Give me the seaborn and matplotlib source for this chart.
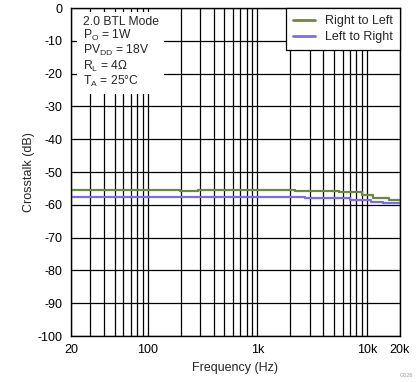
import matplotlib
matplotlib.use("Agg")
import matplotlib.pyplot as plt
import seaborn as sns
import pandas as pd
from matplotlib.ticker import FixedLocator, LogLocator, NullFormatter

# --------------------------------------------------------
# Data
# --------------------------------------------------------

freq_r2l = [20, 197, 288, 2200, 5600, 9000, 11300, 16000, 20000]
db_r2l = [-55.6, -55.8, -55.5, -55.8, -56.2, -57.0, -58.0, -58.6, -58.6]

freq_l2r = [20, 2700, 7000, 11000, 14000, 20000]
db_l2r = [-57.5, -57.9, -58.4, -59.0, -59.4, -59.4]

x_ticks = [20, 100, 1000, 10000, 20000]
x_tick_labels = ["20", "100", "1k", "10k", "20k"]
y_ticks = list(range(-100, 1, 10))

# --------------------------------------------------------
# Settings
# --------------------------------------------------------

sns.set_theme(style="white")
plt.rcParams["font.family"] = ["Liberation Sans", "DejaVu Sans"]
plt.rcParams["mathtext.default"] = "regular"
plt.rcParams["axes.unicode_minus"] = False

FONT_SIZE = 9

df = pd.concat([
    pd.DataFrame({"freq": freq_r2l, "db": db_r2l, "series": "Right to Left"}),
    pd.DataFrame({"freq": freq_l2r, "db": db_l2r, "series": "Left to Right"}),
])

fig = plt.figure(figsize=(4.19, 3.82), dpi=100)
ax = fig.add_axes([0.1695, 0.1204, 0.785, 0.8586])

sns.lineplot(
    data=df,
    x="freq",
    y="db",
    hue="series",
    palette={"Right to Left": "#6b8a3a", "Left to Right": "#7a6cf2"},
    drawstyle="steps-post",
    linewidth=1.6,
    sort=False,
    ax=ax
)

ax.set_xscale("log")
ax.set_xlim(20, 20000)
ax.set_ylim(-100, 0)

ax.xaxis.set_major_locator(FixedLocator(x_ticks))
ax.set_xticklabels(x_tick_labels)
ax.xaxis.set_minor_locator(LogLocator(base=10, subs=range(2, 10)))
ax.xaxis.set_minor_formatter(NullFormatter())
ax.set_yticks(y_ticks)

ax.grid(True, which="both", axis="x", color="black", linewidth=0.9)
ax.grid(True, which="major", axis="y", color="black", linewidth=0.9)

for spine in ax.spines.values():
    spine.set_color("black")
    spine.set_linewidth(1.0)

ax.tick_params(axis="both", which="both", length=0, labelsize=FONT_SIZE,
               colors="black", pad=6)

ax.set_xlabel("Frequency (Hz)", fontsize=FONT_SIZE, labelpad=4)
ax.set_ylabel("Crosstalk (dB)", fontsize=FONT_SIZE)
ax.yaxis.set_label_coords(-0.11, 0.5)

legend = ax.legend(
    loc="upper right",
    frameon=True,
    fancybox=False,
    fontsize=FONT_SIZE,
    borderaxespad=0,
    handlelength=1.8,
    handletextpad=0.8,
    borderpad=0.55,
    labelspacing=0.35,
    title=None
)
legend.get_frame().set_edgecolor("black")
legend.get_frame().set_linewidth(0.9)
legend.get_frame().set_alpha(1)
for line in legend.get_lines():
    line.set_linewidth(2.0)

ax.text(
    0.035, 0.975,
    "2.0 BTL Mode\nP$_{O}$ = 1W\nPV$_{DD}$ = 18V\nR$_{L}$ = 4\u03a9\nT$_{A}$ = 25\u00b0C",
    transform=ax.transAxes,
    ha="left",
    va="top",
    fontsize=8.7,
    linespacing=1.0,
    bbox=dict(facecolor="white", edgecolor="none", pad=4),
    zorder=5
)

fig.text(0.985, 0.01, "G026", fontsize=4, color="#999999", ha="right", va="bottom")

plt.savefig("out.png", dpi=100)
plt.close()
